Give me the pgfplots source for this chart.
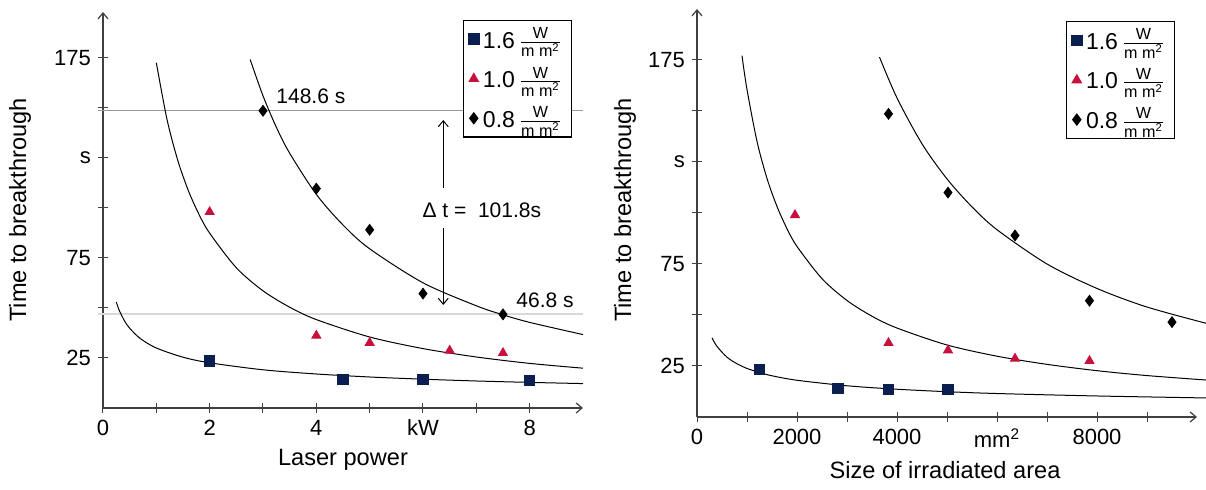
\documentclass[border=0pt]{standalone}
\usepackage{fontspec}
\setmainfont{Liberation Sans}
\usepackage{amsmath}
\usepackage{pgfplots}
\pgfplotsset{compat=1.18}
\usetikzlibrary{arrows.meta}

\definecolor{navy}{HTML}{0A1E50}
\definecolor{crim}{HTML}{C8103C}

\pgfplotsset{
  breakstyle/.style={
    scale only axis,
    axis lines=left,
    axis line style={draw=black!75, line width=0.6pt, -{Straight Barb[length=3pt,width=5pt]}},
    tick align=center,
    major tick length=5pt,
    tick style={draw=black!75, line width=0.5pt},
    ymin=0,
    clip=false,
    scaled x ticks=false,
    tick label style={font=\fontsize{11}{13}\selectfont},
    label style={font=\fontsize{11.8}{13}\selectfont},
    legend style={draw=black, line width=0.6pt, fill=white,
      font=\fontsize{11.5}{13}\selectfont, anchor=north west,
      row sep=4pt, inner xsep=2.5pt, inner ysep=1.5pt},
    legend cell align=left,
  },
  fit/.style={black, line width=0.5pt, smooth, no marks, forget plot},
  p16/.style={only marks, mark=square*, mark size=2.6pt, color=navy},
  p10/.style={only marks, mark=triangle*, mark size=2.6pt, color=crim},
  p08/.style={only marks, mark=diamond*, mark size=2.7pt, color=black},
}
\newcommand{\unitfrac}{\,$\frac{\text{W}}{\text{m m\textsuperscript{2}}}$}

\begin{document}
\begin{tikzpicture}
\useasboundingbox (0,0) rectangle (603pt,245pt);

% left panel: laser power
\begin{axis}[breakstyle,
  at={(51.5pt,41pt)}, anchor=south west,
  width=240pt, height=198pt,
  xmin=0, xmax=9, ymax=198,
  xtick={0,1,...,8}, xticklabels={0,,2,,4,,kW,,8},
  ytick={25,50,...,175}, yticklabels={25,,75,,s,,175},
  xlabel={Laser power}, ylabel={Time to breakthrough},
  xlabel style={at={(axis description cs:0.5,-0.131)}, anchor=center},
  ylabel style={at={(axis description cs:-0.173,0.5)}, anchor=center},
  legend style={at={(0.75,0.98)}},
]
\addplot[forget plot, draw=black!40, line width=0.5pt] coordinates {(-0.1,148.6) (9,148.6)};
\addplot[forget plot, draw=black!15, line width=1.1pt] coordinates {(-0.1,46.8) (9,46.8)};

\addplot[fit] coordinates {(0.25,53.0) (0.3,49.1) (0.4,43.7) (0.5,39.9) (0.7,34.7) (1,30.0) (1.5,25.4) (2,22.6) (3,19.1) (4,17.0) (5,15.5) (6,14.4) (7,13.5) (8,12.8) (9,12.2)};
\addplot[fit] coordinates {(1,172.6) (1.2,144.3) (1.4,124.0) (1.6,108.7) (1.8,96.8) (2,87.4) (2.5,70.1) (3,58.6) (3.5,50.4) (4,44.2) (5,35.5) (6,29.7) (7,25.5) (8,22.3) (9,19.9)};
\addplot[fit] coordinates {(2.76,174.2) (3,156.1) (3.25,140.4) (3.5,127.4) (4,106.8) (4.5,91.5) (5,79.6) (6,62.6) (7,51.1) (7.5,46.6) (8,42.8) (9,36.7)};

\addplot[p16] coordinates {(2,23.5) (4.5,14.3) (6,14.2) (8,13.8)};
\addlegendentry{1.6\unitfrac}
\addplot[p10] coordinates {(2,98) (4,36.2) (5,32.6) (6.5,28.7) (7.5,27.5)};
\addlegendentry{1.0\unitfrac}
\addplot[p08] coordinates {(3,148.6) (4,109.7) (5,89.1) (6,57.2) (7.5,46.8)};
\addlegendentry{0.8\unitfrac}

\node[anchor=west, font=\fontsize{10.5}{12}\selectfont] at (axis cs:3.12,156) {148.6 s};
\node[anchor=west, font=\fontsize{10.5}{12}\selectfont] at (axis cs:7.62,54) {46.8 s};
\node[anchor=west, font=\fontsize{10.5}{12}\selectfont] at (axis cs:5.86,99) {Δ t =\ \ 101.8s};
\draw[black, line width=0.5pt, -{Straight Barb[length=3pt,width=5pt]}] (axis cs:6.38,110) -- (axis cs:6.38,144);
\draw[black, line width=0.5pt, -{Straight Barb[length=3pt,width=5pt]}] (axis cs:6.38,90) -- (axis cs:6.38,51.5);
\end{axis}

% right panel: irradiated area
\begin{axis}[breakstyle,
  at={(348.5pt,36.5pt)}, anchor=south west,
  width=250pt, height=204pt,
  xmin=0, xmax=10000, ymax=200,
  xtick={0,1000,...,9000}, xticklabels={0,,2000,,4000,,mm\textsuperscript{2},,8000,},
  ytick={25,50,...,175}, yticklabels={25,,75,,s,,175},
  xlabel={Size of irradiated area}, ylabel={Time to breakthrough},
  xlabel style={at={(axis description cs:0.496,-0.13)}, anchor=center},
  ylabel style={at={(axis description cs:-0.144,0.507)}, anchor=center},
  legend style={at={(0.738,0.97)}},
]
\addplot[fit] coordinates {(300,38.8) (400,34.6) (600,29.3) (800,26.1) (1000,23.8) (1250,21.8) (1500,20.2) (2000,18.0) (3000,15.3) (4000,13.6) (5000,12.4) (6000,11.5) (8000,10.3) (10250,9.3)};
\addplot[fit] coordinates {(900,177.1) (1000,160.5) (1200,135.1) (1400,116.9) (1600,103.2) (1800,92.3) (2000,83.6) (2500,67.8) (3000,57.1) (3500,49.4) (4000,43.6) (5000,35.3) (6000,29.8) (7000,25.8) (8000,22.7) (9000,20.3) (10250,18.0)};
\addplot[fit] coordinates {(3650,176.4) (4000,156.4) (4500,133.9) (5000,116.7) (5500,103.0) (6000,91.8) (7000,75.0) (8000,63.0) (9000,53.9) (10250,45.5)};

\addplot[p16] coordinates {(1250,23.2) (2820,13.9) (3830,13.6) (5020,13.4)};
\addlegendentry{1.6\unitfrac}
\addplot[p10] coordinates {(1960,99) (3830,36.3) (5020,32.7) (6360,28.6) (7850,27.5)};
\addlegendentry{1.0\unitfrac}
\addplot[p08] coordinates {(3830,148.6) (5020,110) (6360,89) (7850,57) (9500,46.5)};
\addlegendentry{0.8\unitfrac}
\end{axis}
\end{tikzpicture}
\end{document}
